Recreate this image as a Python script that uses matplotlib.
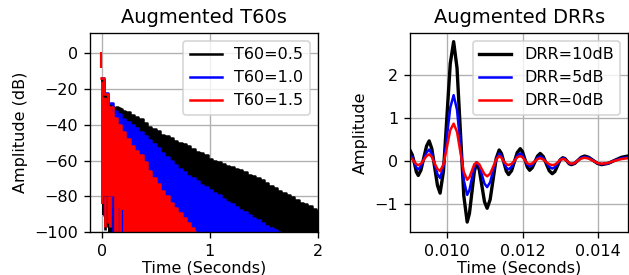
import numpy as np
import matplotlib
matplotlib.use('Agg')
import matplotlib.pyplot as plt

plt.rcParams['font.size'] = 9.6
plt.rcParams['axes.titlesize'] = 11.6

# ---- left panel: decay envelopes (dB) ----
k_t = [0.00, 0.04, 0.08, 0.10, 0.12, 0.14, 0.16, 0.18, 0.20, 0.24, 0.28, 0.32, 0.36, 0.40,
       0.44, 0.48, 0.52, 0.56, 0.60, 0.64, 0.68, 0.72, 0.76, 0.80, 0.84, 0.88, 0.92, 0.96,
       1.00, 1.04, 1.08, 1.12, 1.16, 1.20, 1.24, 1.28, 1.32, 1.36, 1.40, 1.44, 1.48, 1.52,
       1.56, 1.60, 1.64, 1.68, 1.72, 1.76, 1.80, 1.84, 1.88, 1.92, 1.96, 2.00]
k_top = [-15, -24, -29, -30, -31, -30, -30.5, -31, -32, -33, -34.5, -35.5, -37, -39,
         -41, -42.5, -43.5, -45.5, -46.5, -47.5, -49, -50, -51, -52, -53.5, -55, -56, -57,
         -59, -60, -61, -62, -63, -63.5, -64.5, -65.5, -66.5, -68, -68.5, -70, -71, -72.5,
         -74, -75.5, -77, -78, -79.5, -80.5, -82, -83.5, -84.5, -85.5, -87, -88]
k_floor = [-90, -92] + [-100] * 52

b_t = [0.00, 0.04, 0.08, 0.12, 0.16, 0.20, 0.24, 0.28, 0.32, 0.36, 0.40, 0.44, 0.48, 0.52,
       0.56, 0.60, 0.64, 0.68, 0.72, 0.76, 0.80, 0.84, 0.88, 0.92, 0.96, 1.00, 1.04, 1.08,
       1.12, 1.16, 1.20, 1.24, 1.28, 1.32, 1.36, 1.40, 1.44, 1.48, 1.52, 1.56, 1.60, 1.64]
b_top = [-14, -22, -28, -32, -34, -36.5, -38.5, -40, -42, -44, -46, -48.5, -51, -53,
         -55.5, -58, -60.5, -62.5, -64.5, -66.5, -68.5, -70, -71.5, -73.5, -75, -76.5, -78, -79.5,
         -81.5, -83, -84.5, -86, -87.5, -89, -90.5, -92, -93.5, -95, -96.5, -97.5, -99, -100]
b_floor = [-80, -88, -90, -92] + [-100] * 38

r_t = [-0.01, 0.00, 0.04, 0.08, 0.12, 0.16, 0.20, 0.24, 0.28, 0.32, 0.36, 0.40, 0.44, 0.48,
       0.52, 0.56, 0.60, 0.64, 0.68, 0.72, 0.76, 0.80, 0.84, 0.86]
r_top = [-14, -14, -23, -30, -36, -40, -44, -48, -52, -54.5, -57, -61, -66, -69.5,
         -73, -77, -80, -83.5, -86.5, -89.5, -92, -95, -98, -100]
r_floor = [-80, -84, -85, -86, -86, -86, -87] + [-100] * 17

# spikes below the noise floor near t=0 (time, lowest dB)
k_spk_t = [0.035, 0.045]
k_spk_db = [-99, -97]
b_spk_t = [0.02, 0.065, 0.08, 0.10]
b_spk_db = [-91, -94, -97, -100]
r_spk_t = [0.035, 0.06, 0.08, 0.125, 0.145, 0.165, 0.205, 0.225]
r_spk_db = [-97, -95, -97, -100, -100, -100, -100, -99]
r_peak_t = -0.005
r_peak_db = [-8, 1]

# ---- right panel: direct-path region ----
drr_t = [0.0090, 0.00907, 0.00913, 0.00918, 0.00923, 0.00930, 0.009375, 0.00945, 0.00952,
         0.00959, 0.009665, 0.00974, 0.00981, 0.0099, 0.00999, 0.01008, 0.01017, 0.01026,
         0.01035, 0.01044, 0.01053, 0.01059, 0.010655, 0.01072, 0.01078, 0.01085, 0.01092,
         0.01099, 0.01106, 0.01114, 0.01122, 0.0113, 0.01138, 0.01144, 0.011505, 0.01157,
         0.01163, 0.01171, 0.011785, 0.01186, 0.01194, 0.0120, 0.012065, 0.01213, 0.01219,
         0.01226, 0.01233, 0.0124, 0.01247, 0.01255, 0.01263, 0.01271, 0.01279, 0.01286,
         0.01293, 0.0130, 0.01307, 0.01313, 0.013185, 0.01324, 0.0133, 0.01339, 0.013475,
         0.01356, 0.01365, 0.01376, 0.013875, 0.01399, 0.0141, 0.01428, 0.01445, 0.01463, 0.0148]
drr10 = [0.27, 0.15, -0.05, -0.25, -0.33, -0.21, 0.07, 0.35, 0.47,
         0.29, -0.135, -0.56, -0.74, -0.23, 1.01, 2.26, 2.77, 2.16,
         0.68, -0.80, -1.41, -1.21, -0.725, -0.24, -0.04, -0.19, -0.565,
         -0.94, -1.09, -0.89, -0.415, 0.06, 0.26, 0.18, -0.025, -0.23,
         -0.31, -0.22, -0.01, 0.20, 0.29, 0.22, 0.04, -0.14, -0.21,
         -0.15, -0.015, 0.12, 0.18, 0.11, -0.055, -0.22, -0.29, -0.24,
         -0.105, 0.03, 0.08, 0.06, 0.0, -0.06, -0.08, -0.05, 0.02,
         0.09, 0.12, 0.09, 0.02, -0.05, -0.08, -0.05, 0.02, 0.09, 0.12]
drr5 = [0.17, 0.09, -0.03, -0.15, -0.19, -0.12, 0.04, 0.20, 0.27,
        0.17, -0.07, -0.30, -0.39, -0.12, 0.56, 1.24, 1.53, 1.19,
        0.37, -0.44, -0.78, -0.67, -0.40, -0.13, -0.03, -0.11, -0.31,
        -0.52, -0.60, -0.49, -0.22, 0.04, 0.18, 0.12, -0.02, -0.15,
        -0.19, -0.13, 0.0, 0.13, 0.18, 0.14, 0.03, -0.08, -0.12,
        -0.09, 0.0, 0.08, 0.11, 0.07, -0.03, -0.13, -0.17, -0.14,
        -0.06, 0.03, 0.07, 0.05, 0.0, -0.05, -0.07, -0.04, 0.02,
        0.08, 0.10, 0.08, 0.02, -0.04, -0.07, -0.05, 0.02, 0.07, 0.09]
drr0 = [0.10, 0.05, -0.02, -0.07, -0.09, -0.06, 0.03, 0.12, 0.16,
        0.10, -0.05, -0.18, -0.23, -0.07, 0.32, 0.72, 0.87, 0.68,
        0.21, -0.25, -0.43, -0.37, -0.22, -0.07, -0.03, -0.07, -0.19,
        -0.30, -0.35, -0.29, -0.13, 0.04, 0.12, 0.08, -0.01, -0.07,
        -0.09, -0.06, 0.01, 0.09, 0.12, 0.09, 0.02, -0.05, -0.07,
        -0.05, 0.0, 0.05, 0.07, 0.04, -0.02, -0.07, -0.09, -0.08,
        -0.03, 0.03, 0.05, 0.04, 0.0, -0.04, -0.06, -0.04, 0.02,
        0.06, 0.08, 0.06, 0.01, -0.04, -0.06, -0.04, 0.01, 0.05, 0.07]

fig = plt.figure(figsize=(629 / 120, 275 / 120), dpi=120)
ax1 = fig.add_axes([0.1431, 0.1564, 0.3625, 0.7236])
ax2 = fig.add_axes([0.6518, 0.1564, 0.3470, 0.7236])

for t, top, floor, st, sdb, c, lbl in [
        (k_t, k_top, k_floor, k_spk_t, k_spk_db, 'k', 'T60=0.5'),
        (b_t, b_top, b_floor, b_spk_t, b_spk_db, 'b', 'T60=1.0'),
        (r_t, r_top, r_floor, r_spk_t, r_spk_db, 'r', 'T60=1.5')]:
    ax1.fill_between(t, top, floor, step='mid', color=c, lw=0.6)
    ax1.plot(t, top, color=c, lw=1.5, drawstyle='steps-mid', label=lbl)
    ax1.vlines(st, -80, sdb, color=c, lw=1.6)
ax1.vlines(r_peak_t, r_peak_db[0], r_peak_db[1], color='r', lw=1.3)

ax1.set_xlim(-0.108, 2)
ax1.set_ylim(-100, 11.4)
ax1.set_xticks([0, 1, 2])
ax1.set_yticks([-100, -80, -60, -40, -20, 0])
ax1.grid(True)
ax1.set_axisbelow(True)
ax1.set_title('Augmented T60s')
ax1.set_xlabel('Time (Seconds)', labelpad=1)
ax1.set_ylabel('Amplitude (dB)')
ax1.legend(loc='upper right')

ax2.plot(drr_t, drr10, color='k', lw=2, label='DRR=10dB')
ax2.plot(drr_t, drr5, color='b', lw=1.5, label='DRR=5dB')
ax2.plot(drr_t, drr0, color='r', lw=1.5, label='DRR=0dB')
ax2.set_xlim(0.00901, 0.01481)
ax2.set_ylim(-1.64, 2.97)
ax2.set_xticks([0.010, 0.012, 0.014])
ax2.set_yticks([-1, 0, 1, 2])
ax2.grid(True)
ax2.set_title('Augmented DRRs')
ax2.set_xlabel('Time (Seconds)', labelpad=1)
ax2.set_ylabel('Amplitude')
ax2.legend(loc='upper right')

fig.savefig('out.png', dpi=120)
